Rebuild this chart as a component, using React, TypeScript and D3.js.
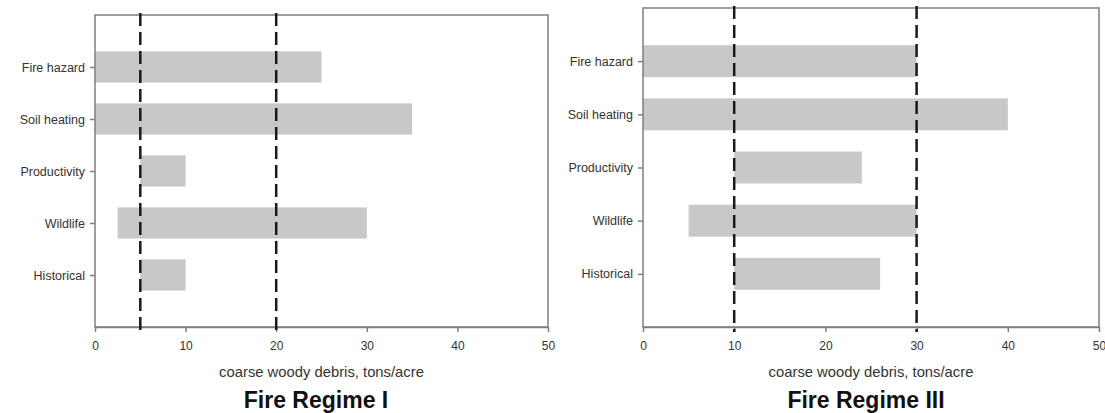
import React, { useEffect, useRef } from 'react';
import * as d3 from 'd3';

// categories, top to bottom
const categories = ['Fire hazard', 'Soil heating', 'Productivity', 'Wildlife', 'Historical'];

// Fire Regime I ranges (tons/acre)
const regime1Low = [0, 0, 5, 2.5, 5];
const regime1High = [25, 35, 10, 30, 10];
const regime1Lines = [5, 20];

// Fire Regime III ranges (tons/acre)
const regime3Low = [0, 0, 10, 5, 10];
const regime3High = [30, 40, 24, 30, 26];
const regime3Lines = [10, 30];

const xTicks = [0, 10, 20, 30, 40, 50];
const axisTitle = 'coarse woody debris, tons/acre';

const panels = [
  { title: 'Fire Regime I', low: regime1Low, high: regime1High, lines: regime1Lines,
    left: 95, right: 548, top: 15, bottom: 327, titleX: 316 },
  { title: 'Fire Regime III', low: regime3Low, high: regime3High, lines: regime3Lines,
    left: 643, right: 1099, top: 8, bottom: 327, titleX: 866 },
];

const App = () => {
  const ref = useRef<SVGSVGElement>(null);

  useEffect(() => {
    if (!ref.current) return;
    const svg = d3.select(ref.current);
    svg.selectAll('*').remove();

    const axisColor = '#7f7f7f';
    const textColor = '#333';
    const font = '"Liberation Sans", Arial, sans-serif';

    panels.forEach((p) => {
      const x = d3.scaleLinear().domain([0, 50]).range([p.left, p.right]);
      // category slots at 1..5 on a 0..6 scale
      const y = d3.scaleLinear().domain([0, categories.length + 1]).range([p.top, p.bottom]);
      const barH = (y(1) - y(0)) * 0.6;

      const g = svg.append('g');

      // bars
      g.selectAll('rect.bar')
        .data(categories)
        .enter()
        .append('rect')
        .attr('class', 'bar')
        .attr('x', (d, i) => x(p.low[i]))
        .attr('width', (d, i) => x(p.high[i]) - x(p.low[i]))
        .attr('y', (d, i) => y(i + 1) - barH / 2)
        .attr('height', barH)
        .attr('fill', '#c8c8c8');

      // frame
      g.append('rect')
        .attr('x', p.left)
        .attr('y', p.top)
        .attr('width', p.right - p.left)
        .attr('height', p.bottom - p.top)
        .attr('fill', 'none')
        .attr('stroke', axisColor)
        .attr('stroke-width', 1.5);

      // bottom axis
      const xAxis = g
        .append('g')
        .attr('transform', `translate(0,${p.bottom})`)
        .call(d3.axisBottom(x).tickValues(xTicks).tickSize(5).tickPadding(9).tickSizeOuter(0));
      xAxis.select('.domain').attr('stroke', axisColor).attr('stroke-width', 1.5);
      xAxis.selectAll('line').attr('stroke', axisColor).attr('stroke-width', 1.5);
      xAxis.selectAll('text').attr('fill', textColor).style('font-family', font).style('font-size', '12px');

      // left axis with category labels
      const yAxis = g
        .append('g')
        .attr('transform', `translate(${p.left},0)`)
        .call(
          d3.axisLeft(y)
            .tickValues(categories.map((c, i) => i + 1))
            .tickFormat((d) => categories[(d as number) - 1])
            .tickSize(5)
            .tickPadding(5)
            .tickSizeOuter(0)
        );
      yAxis.select('.domain').remove();
      yAxis.selectAll('line').attr('stroke', axisColor).attr('stroke-width', 1.5);
      yAxis.selectAll('text').attr('fill', textColor).style('font-family', font).style('font-size', '12.5px');

      // dashed reference lines
      g.selectAll('line.ref')
        .data(p.lines)
        .enter()
        .append('line')
        .attr('class', 'ref')
        .attr('x1', (d) => x(d))
        .attr('x2', (d) => x(d))
        .attr('y1', p.top - 2)
        .attr('y2', p.bottom + 5)
        .attr('stroke', '#1a1a1a')
        .attr('stroke-width', 2.5)
        .attr('stroke-dasharray', '13,6');

      // axis title
      g.append('text')
        .attr('x', (p.left + p.right) / 2)
        .attr('y', 377)
        .attr('text-anchor', 'middle')
        .attr('fill', textColor)
        .style('font-family', font)
        .style('font-size', '14.8px')
        .text(axisTitle);

      // panel title
      g.append('text')
        .attr('x', p.titleX)
        .attr('y', 408)
        .attr('text-anchor', 'middle')
        .attr('fill', '#111')
        .style('font-family', font)
        .style('font-size', '23px')
        .style('font-weight', 'bold')
        .text(p.title);
    });
  }, []);

  return (
    <svg
      ref={ref}
      width={1105}
      height={413}
      style={{ position: 'absolute', left: 0, top: 0, background: '#fff' }}
    />
  );
};

export default App;
